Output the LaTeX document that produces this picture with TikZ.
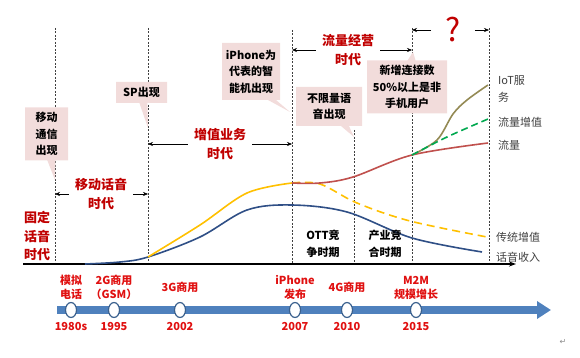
\documentclass[tikz,border=0pt]{standalone}
\usepackage{fontspec}
\setmainfont{Noto Sans CJK SC}
\newfontfamily\markfont{DejaVu Sans}
\usetikzlibrary{positioning,shapes.callouts,shapes.geometric,arrows.meta}
\definecolor{eraRed}{HTML}{C00000}
\definecolor{tlRed}{HTML}{E01010}
\definecolor{notePink}{HTML}{F2DCDB}
\definecolor{voiceBlue}{HTML}{2F4F86}
\definecolor{vasYellow}{HTML}{FFC000}
\definecolor{dataRed}{HTML}{C0504D}
\definecolor{iotOlive}{HTML}{948A54}
\definecolor{dataGreen}{HTML}{00A84F}
\definecolor{barBlue}{HTML}{4F81BD}

\begin{document}
\begin{tikzpicture}[x=1pt,y=-1pt,
    every node/.style={inner sep=0pt},
    note/.style={rectangle callout, fill=notePink, align=center,
      font=\fontsize{11}{16.5}\selectfont\bfseries, callout pointer width=8pt},
    era/.style={align=center, text=eraRed, inner sep=6pt,
      font=\fontsize{13}{18.5}\selectfont\bfseries},
    span/.style={-{Stealth[length=5pt,width=4pt]}, line width=0.5pt},
    guide/.style={dash pattern=on 2pt off 1.5pt, line width=0.6pt, black!75},
    stage/.style={align=center, font=\fontsize{11}{16.5}\selectfont\bfseries},
    legend/.style={anchor=west, align=left, text=black!75,
      font=\fontsize{11}{17}\selectfont},
    curve/.style={line width=1.6pt, smooth, tension=0.55},
    milestone/.style={ellipse, draw=barBlue!75!black, fill=white, line width=1.2pt,
      minimum width=11pt, minimum height=15pt},
    event/.style={text=tlRed, align=center, minimum height=28pt,
      font=\fontsize{11}{14}\selectfont\bfseries},
    year/.style={text=tlRed, font=\fontsize{11}{13}\selectfont\bfseries}]
  \useasboundingbox (0,0) rectangle (580,358);

  % Define guide lines
  \coordinate (g1) at (55,28);   \coordinate (g1b) at (55,264);
  \coordinate (g2) at (148,28);  \coordinate (g2b) at (148,264);
  \coordinate (g3) at (292,30);  \coordinate (g3b) at (292,264);
  \coordinate (g4) at (354,130); \coordinate (g4b) at (354,264);
  \coordinate (g5) at (412,28);  \coordinate (g5b) at (412,264);
  \coordinate (g6) at (489,28);  \coordinate (g6b) at (489,264);
  \foreach \g in {g1,g2,g3,g4,g5,g6}
    \draw[guide] (\g) -- (\g b);

  % Axis
  \coordinate (axisStart) at (23,264);
  \coordinate (axisEnd) at (516,264);
  \draw[-{Stealth[length=7pt,width=5pt]}, line width=1.3pt] (axisStart) -- (axisEnd);

  % Callouts
  \node[note, minimum width=43pt, minimum height=53pt,
    callout absolute pointer={(55,180)}] (mobile) at (46.5,134) {移动\\通信\\出现};
  \node[note, minimum width=51pt, minimum height=21pt,
    callout absolute pointer={(148,128)}] (sp) at (141.5,92.5) {SP出现};
  \node[note, minimum width=58pt, minimum height=57pt,
    callout absolute pointer={(290,112)}] (smart) at (251,71.5) {iPhone为\\代表的智\\能机出现};
  \node[note, minimum width=66pt, minimum height=39pt,
    callout absolute pointer={(354,137)}] (unlim) at (329,106.5) {不限量语\\音出现};
  \node[note, minimum width=80pt, minimum height=53pt,
    callout absolute pointer={(413,52)}] (conn) at (407,87) {新增连接数\\50\%以上是非\\手机用户};

  % Eras
  \node[era] (fixed) at (37,236) {固定\\话音\\时代};
  \node[era] (mobvoice) at (101,194) {移动话音\\时代};
  \node[era] (vas) at (220,144) {增值业务\\时代};
  \node[era] (traffic) at (348,50) {流量经营\\时代};
  \node[text=eraRed, font=\fontsize{32}{32}\selectfont] (what) at (453,30) {?};
  \draw[span] (mobvoice.west) -- (mobvoice.west -| g1);
  \draw[span] (mobvoice.east) -- (mobvoice.east -| g2);
  \draw[span] (vas.west) -- (vas.west -| g2);
  \draw[span] (vas.east) -- (vas.east -| g3);
  \draw[span] (traffic.west) -- (traffic.west -| g3);
  \draw[span] (traffic.east) -- (traffic.east -| g5);
  \draw[span, shorten <=14pt] (what.west) -- (what.west -| g5);
  \draw[span, shorten <=14pt] (what.east) -- (what.east -| g6);

  % Curves
  \draw[curve, voiceBlue] plot coordinates {(85,264) (120,262) (148,257) (200,237)
    (247,210) (292,205) (347,212) (412,238) (482,252)};
  \draw[curve, vasYellow] plot coordinates {(148,257) (200,225) (247,193) (292,183)};
  \draw[curve, vasYellow, dash pattern=on 8pt off 5pt] plot coordinates {(292,183)
    (320,184) (357,203) (410,221) (487,237)};
  \draw[curve, dataRed] plot coordinates {(292,183) (320,183) (353,177) (412,155) (488,143)};
  \draw[curve, iotOlive] plot coordinates {(412,155) (437,140) (453,114) (467,100) (488,85)};
  \draw[curve, dataGreen, dash pattern=on 7pt off 4pt] plot coordinates {(412,155)
    (447,137) (488,119)};

  % Stages and legend
  \node[stage] (ott) at (323,244) {OTT竞\\争时期};
  \node[stage] (coop) at (385,244) {产业竞\\合时期};
  \node[legend] (iot) at (498,89) {IoT服\\务};
  \node[legend] (dvas) at (498,122) {流量增值};
  \node[legend] (data) at (498,145) {流量};
  \node[legend] (tvas) at (496,237) {传统增值};
  \node[legend] (voice) at (496,257) {话音收入};

  % Timeline
  \coordinate (barStart) at (57,310);
  \coordinate (barEnd) at (551,310);
  \draw[barBlue, line width=8pt, -{Triangle[length=14pt,width=17pt]}] (barStart) -- (barEnd);
  \node[milestone] (m1980) at (71,310) {};
  \node[milestone] (m1995) at (114,310) {};
  \node[milestone] (m2002) at (180,310) {};
  \node[milestone] (m2007) at (295,310) {};
  \node[milestone] (m2010) at (347,310) {};
  \node[milestone] (m2015) at (416,310) {};
  \node[event, above=0pt of m1980] {模拟\\电话};
  \node[event, above=0pt of m1995] {2G商用\\（GSM）};
  \node[event, above=0pt of m2002] {3G商用};
  \node[event, above=0pt of m2007] {iPhone\\发布};
  \node[event, above=0pt of m2010] {4G商用};
  \node[event, above=0pt of m2015] {M2M\\规模增长};
  \node[year, below=4pt of m1980] {1980s};
  \node[year, below=4pt of m1995] {1995};
  \node[year, below=4pt of m2002] {2002};
  \node[year, below=4pt of m2007] {2007};
  \node[year, below=4pt of m2010] {2010};
  \node[year, below=4pt of m2015] {2015};
  \node[text=black!45, font=\markfont\fontsize{8}{8}\selectfont] (mark) at (563,342) {↵};
\end{tikzpicture}
\end{document}
